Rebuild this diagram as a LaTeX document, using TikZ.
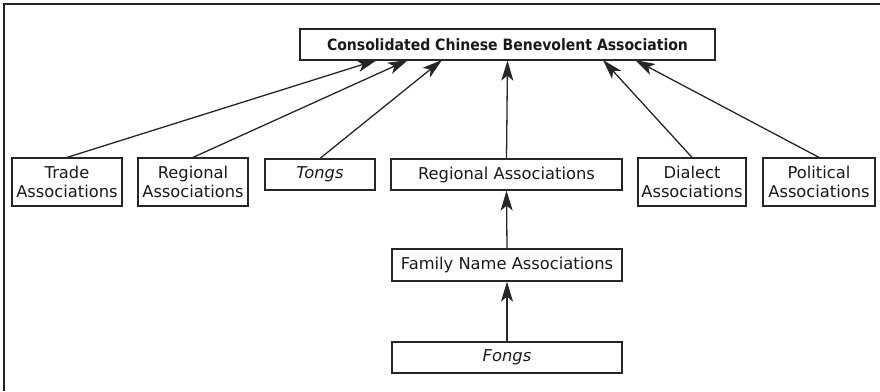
\documentclass[tikz,border=0pt]{standalone}
\usepackage{fontspec}
\setmainfont{DejaVu Sans}
\newfontfamily\topfont{DejaVu Sans Condensed Bold}
\usetikzlibrary{arrows.meta}
\begin{document}
\begin{tikzpicture}[x=1pt,y=-1pt,
  box/.style={draw=black!85,line width=1.2pt,inner sep=0pt,align=center,font=\fontsize{16.3}{19.5}\selectfont,text=black!90},
  link/.style={line width=1.3pt,draw=black!85,-{Stealth[length=20pt,width=12pt,inset=5pt]}}]
\useasboundingbox (0,0) rectangle (880,391);
\draw[line width=2pt,black!85] (3.5,391) -- (3.5,3.5) -- (880,3.5);
\node[box,minimum width=415pt,minimum height=31pt,font=\fontsize{15.6}{19}\topfont] (top) at (507.5,44.5) {Consolidated Chinese Benevolent Association};
\node[box,minimum width=110pt,minimum height=48pt] (trade) at (67,182) {Trade\\Associations};
\node[box,minimum width=110pt,minimum height=48pt] (reg1) at (193,182) {Regional\\Associations};
\node[box,minimum width=110pt,minimum height=31pt] (tongs) at (320,174.5) {\itshape Tongs};
\node[box,minimum width=231pt,minimum height=31pt] (reg2) at (506.5,174.5) {Regional Associations};
\node[box,minimum width=108pt,minimum height=48pt] (dial) at (692,182) {Dialect\\Associations};
\node[box,minimum width=112pt,minimum height=48pt] (pol) at (819,182) {Political\\Associations};
\node[box,minimum width=230pt,minimum height=32pt] (fam) at (507,265) {Family Name Associations};
\node[box,minimum width=230pt,minimum height=31pt] (fongs) at (507,357.5) {\itshape Fongs};
\coordinate (t1) at (377,60);
\coordinate (t2) at (408,60);
\coordinate (t3) at (442,60);
\coordinate (t5) at (603,60);
\coordinate (t6) at (635,60);
\draw[link] (trade.north) -- (t1);
\draw[link] (reg1.north) -- (t2);
\draw[link] (tongs.north) -- (t3);
\draw[link] (reg2.north) -- (top.south);
\draw[link] (dial.north) -- (t5);
\draw[link] (pol.north) -- (t6);
\draw[link] (fam.north) -- (reg2.south);
\draw[link] (fongs.north) -- (fam.south);
\end{tikzpicture}
\end{document}
